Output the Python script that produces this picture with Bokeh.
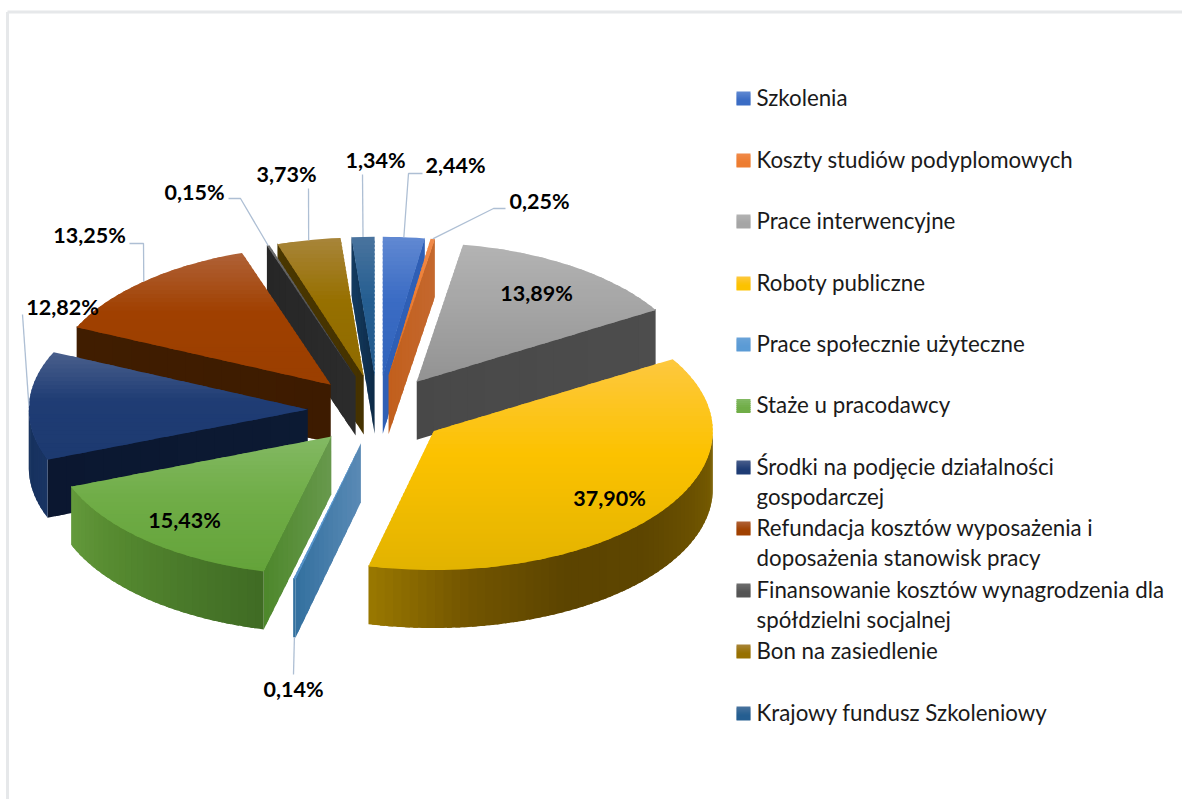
import math
from bokeh.plotting import figure
from bokeh.models import Range1d, ColumnDataSource
from bokeh.core.properties import value
from bokeh.embed import file_html
from bokeh.resources import INLINE

# ---------- data ----------
categories = ["Szkolenia", "Koszty studiów podyplomowych", "Prace interwencyjne",
              "Roboty publiczne", "Prace społecznie użyteczne", "Staże u pracodawcy",
              "Środki na podjęcie działalności gospodarczej",
              "Refundacja kosztów wyposażenia i doposażenia stanowisk pracy",
              "Finansowanie kosztów wynagrodzenia dla spółdzielni socjalnej",
              "Bon na zasiedlenie", "Krajowy fundusz Szkoleniowy"]
shares = [2.44, 0.25, 13.89, 37.90, 0.14, 15.43, 12.82, 13.25, 0.15, 3.73, 1.34]
share_labels = ["2,44%", "0,25%", "13,89%", "37,90%", "0,14%", "15,43%",
                "12,82%", "13,25%", "0,15%", "3,73%", "1,34%"]
legend_lines = [["Szkolenia"], ["Koszty studiów podyplomowych"], ["Prace interwencyjne"],
                ["Roboty publiczne"], ["Prace społecznie użyteczne"], ["Staże u pracodawcy"],
                ["Środki na podjęcie działalności", "gospodarczej"],
                ["Refundacja kosztów wyposażenia i", "doposażenia stanowisk pracy"],
                ["Finansowanie kosztów wynagrodzenia dla", "spółdzielni socjalnej"],
                ["Bon na zasiedlenie"], ["Krajowy fundusz Szkoleniowy"]]

# ---------- styles ----------
top_light = ["#6189d2", "#f08a4a", "#b3b3b3", "#fdc83f", "#6ba3d8", "#83b964",
             "#4a5f8c", "#b06238", "#6e6e6e", "#a8853a", "#4a749e"]
top_base = ["#3b6cc4", "#ed7d31", "#a5a5a5", "#fcc200", "#5b9bd5", "#70ad47",
            "#1f3c74", "#a04000", "#555555", "#977000", "#255e91"]
top_dark = ["#3063bb", "#d96c20", "#939393", "#e2b300", "#4f8cc4", "#64a33a",
            "#1d3a70", "#9a3f00", "#4a4a4a", "#8e6b00", "#235a8c"]
wall_in = ["#2f5fb5", "#c25f1c", "#484848", "#000000", "#5a8ab5", "#68994d",
           "#0c1a33", "#3d1b00", "#2c2c2c", "#453200", "#0e2b47"]
wall_out = ["#2f5fb5", "#c4682e", "#4d4d4d", "#000000", "#33709f", "#4d872b",
            "#0b1730", "#401d00", "#262626", "#4a3700", "#143b60"]
arc_ramp = {3: ["#7b6000", "#6c5200", "#5d4500", "#5c4400", "#725500", "#9a7800"],
            5: ["#3f6b24", "#4a7a2a", "#568a30", "#649a3c"],
            6: ["#193463", "#15305c"],
            4: ["#33709f", "#33709f"]}
label_pos = {0: (455, 164.5), 1: (539, 200.5), 2: (536, 292.5), 3: (609, 497.5), 4: (293, 688.5),
             5: (184, 519.5), 6: (62, 306.5), 7: (89, 234.5), 8: (194, 191.5), 9: (286, 173.5), 10: (375, 159.5)}
leader_via = {0: [(408, 173), (422, 173)], 1: [(493, 208), (505, 208)], 4: [(293, 674)],
              6: [(22, 314)], 7: [(143, 243), (129, 243)], 8: [(240, 198), (228, 198)],
              9: [(308, 188)], 10: [(362, 174)]}
legend_y = [98, 160, 221, 283, 344, 405.5, 467, 528, 590, 651, 713]
LEGEND_FONT = 22.3
LABEL_FONT = 21.5
LEGEND_TEXT_DY = -1.2
cx, cy, rx, ry, explode, depth = 377.0, 410.0, 279.0, 139.0, 0.25, 58.0
FONT = "Lato"


def hex2(c):
    return tuple(int(c[i:i + 2], 16) for i in (1, 3, 5))


def mix(a, b, t):
    a, b = hex2(a), hex2(b)
    return "#%02x%02x%02x" % tuple(round(a[i] + (b[i] - a[i]) * t) for i in range(3))


def ramp(stops, t):
    t = max(0.0, min(1.0, t)) * (len(stops) - 1)
    i = min(int(t), len(stops) - 2)
    return mix(stops[i], stops[i + 1], t - i)


def clip(poly, y0, y1):
    def cut(pts, inside, yc):
        out = []
        for k in range(len(pts)):
            a, b = pts[k], pts[(k + 1) % len(pts)]
            ia, ib = inside(a), inside(b)
            if ia:
                out.append(a)
            if ia != ib:
                s = (yc - a[1]) / (b[1] - a[1])
                out.append((a[0] + s * (b[0] - a[0]), yc))
        return out
    r = cut(poly, lambda q: q[1] >= y0, y0)
    return cut(r, lambda q: q[1] <= y1, y1) if r else []


total = sum(shares)
bounds = [0.0]
for v in shares:
    bounds.append(bounds[-1] + v / total * 2 * math.pi)

slices = []
for i in range(len(shares)):
    a0, a1 = bounds[i], bounds[i + 1]
    m = (a0 + a1) / 2
    ax = cx + explode * rx * math.sin(m)
    ay = cy - explode * ry * math.cos(m)
    slices.append(dict(i=i, a0=a0, a1=a1, m=m, ax=ax, ay=ay))

P = {"xs": [], "ys": [], "c": []}


def add(pts, color):
    P["xs"].append([q[0] for q in pts])
    P["ys"].append([q[1] for q in pts])
    P["c"].append(color)


def rim(s, a):
    return (s["ax"] + rx * math.sin(a), s["ay"] - ry * math.cos(a))


def radial_wall(s, a):
    i = s["i"]
    n = 14
    e = rim(s, a)
    for k in range(n):
        f0, f1 = k / n, min(1.0, (k + 1.6) / n)
        p0 = (s["ax"] + (e[0] - s["ax"]) * f0, s["ay"] + (e[1] - s["ay"]) * f0)
        p1 = (s["ax"] + (e[0] - s["ax"]) * f1, s["ay"] + (e[1] - s["ay"]) * f1)
        add([(p0[0], p0[1] - 1), (p1[0], p1[1] - 1), (p1[0], p1[1] + depth), (p0[0], p0[1] + depth)],
            mix(wall_in[i], wall_out[i], (k + 0.5) / n))


for s in sorted(slices, key=lambda d: d["ay"]):
    i, a0, a1 = s["i"], s["a0"], s["a1"]
    # radial faces facing the viewer
    if math.sin(a1) > 0:
        radial_wall(s, a1)
    if math.sin(a0) < 0:
        radial_wall(s, a0)
    # outer rim wall, where the arc faces the viewer
    lo, hi = max(a0, math.pi / 2), min(a1, 3 * math.pi / 2)
    if hi > lo:
        n = max(2, int((hi - lo) / 0.03))
        stops = arc_ramp.get(i, [wall_out[i], wall_out[i]])
        for k in range(n):
            b0 = lo + (hi - lo) * k / n
            b1 = min(hi, lo + (hi - lo) * (k + 1.6) / n)
            pts = [rim(s, b0 + (b1 - b0) * q / 3) for q in range(4)]
            top_edge = [(q[0], q[1] - 1) for q in pts]
            bot_edge = [(q[0], q[1] + depth) for q in reversed(pts)]
            add(top_edge + bot_edge, ramp(stops, (k + 0.5) / n))
    # top face with a vertical shading
    n = max(2, int((a1 - a0) / 0.03))
    poly = [(s["ax"], s["ay"])] + [rim(s, a0 + (a1 - a0) * k / n) for k in range(n + 1)]
    ymin, ymax = min(q[1] for q in poly), max(q[1] for q in poly)
    bands = max(2, int((ymax - ymin) / 4))
    for b in range(bands):
        y0 = ymin + (ymax - ymin) * b / bands
        y1 = ymin + (ymax - ymin) * (b + 1.5) / bands
        part = clip(poly, y0, y1)
        if len(part) >= 3:
            t = (b + 0.5) / bands
            col = mix(top_light[i], top_base[i], t / 0.45) if t < 0.45 else mix(top_base[i], top_dark[i], (t - 0.45) / 0.55)
            add(part, col)

# ---------- figure ----------
p = figure(width=1182, height=799, output_backend="svg", toolbar_location=None,
           x_range=Range1d(0, 1182), y_range=Range1d(799, 0), min_border=0)
p.axis.visible = False
p.grid.visible = False
p.outline_line_color = None
p.background_fill_color = "white"
p.border_fill_color = "white"

# chart frame
p.line([7, 7], [799, 11.5], line_color="#e6e8ea", line_width=3)
p.line([7, 1182], [11.5, 11.5], line_color="#e6e8ea", line_width=3)

p.patches("xs", "ys", source=ColumnDataSource(P), fill_color="c", line_color=None)

# leader lines
for s in slices:
    i = s["i"]
    if i in leader_via:
        e = rim(s, s["m"])
        if i == 4:
            e = (e[0], e[1] + depth)
        pts = [e] + leader_via[i]
        p.line([q[0] for q in pts], [q[1] for q in pts], line_color="#aebfd4", line_width=1.3)

# data labels
p.text([label_pos[i][0] for i in range(len(shares))], [label_pos[i][1] for i in range(len(shares))],
       text=share_labels, text_font=value(FONT), text_font_style="bold",
       text_font_size=f"{LABEL_FONT}px", text_color="#000000",
       text_align="center", text_baseline="middle")

# legend
L = {"xs": [], "ys": [], "c": []}
for i, y in enumerate(legend_y):
    for k in range(7):
        y0, y1 = y - 7 + 2 * k, min(y + 7, y - 7 + 2 * (k + 1.5))
        t = (k + 0.5) / 7
        L["xs"].append([736, 750, 750, 736])
        L["ys"].append([y0, y0, y1, y1])
        L["c"].append(mix(top_light[i], top_base[i], t / 0.6) if t < 0.6 else top_base[i])
p.patches("xs", "ys", source=ColumnDataSource(L), fill_color="c", line_color=None)

tx, ty, tt = [], [], []
for i, y in enumerate(legend_y):
    for k, line in enumerate(legend_lines[i]):
        tx.append(756)
        ty.append(y + 30 * k + LEGEND_TEXT_DY)
        tt.append(line)
p.text(tx, ty, text=tt, text_font=value(FONT), text_font_size=f"{LEGEND_FONT}px",
       text_color="#1a1a1a", text_align="left", text_baseline="middle")

open("out.html", "w").write(file_html(p, INLINE))
